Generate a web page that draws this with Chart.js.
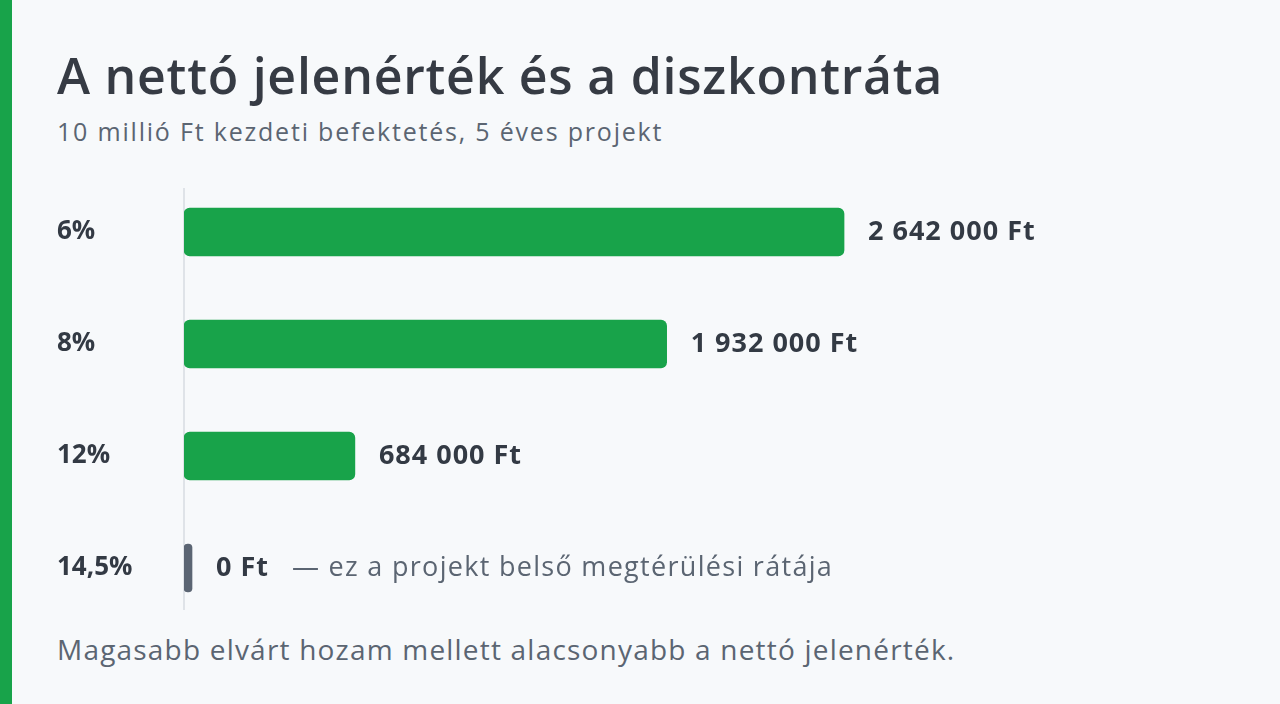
<!DOCTYPE html>
<html>
<head>
<meta charset="utf-8">
<script src="https://cdn.jsdelivr.net/npm/chart.js@4.4.1/dist/chart.umd.min.js"></script>
<style>
  html, body { margin: 0; padding: 0; }
  body { width: 1280px; height: 704px; background: #f7f9fb; position: relative; overflow: hidden; font-family: "Open Sans", sans-serif; }
  .stripe { position: absolute; left: 0; top: 0; width: 12px; height: 704px; background: #18a34a; }
  h1 { position: absolute; left: 57px; top: 50px; margin: 0; font-size: 50px; font-weight: 600; color: #363b44; line-height: 1; white-space: nowrap; letter-spacing: 0.75px; }
  .sub { position: absolute; left: 57px; top: 119px; margin: 0; font-size: 25px; line-height: 1; font-weight: 400; color: #5b6572; white-space: nowrap; letter-spacing: 1.8px; }
  .foot { position: absolute; left: 57px; top: 635px; margin: 0; font-size: 28px; line-height: 1; font-weight: 400; color: #5b6572; white-space: nowrap; letter-spacing: 1.2px; }
  #wrap { position: absolute; left: 57px; top: 176px; width: 1180px; height: 448px; }
</style>
</head>
<body>
<div class="stripe"></div>
<h1 id="title">A nettó jelenérték és a diszkontráta</h1>
<div class="sub" id="sub">10 millió Ft kezdeti befektetés, 5 éves projekt</div>
<div id="wrap"><canvas id="c"></canvas></div>
<div class="foot" id="foot">Magasabb elvárt hozam mellett alacsonyabb a nettó jelenérték.</div>
<script>
const rates = ["6%", "8%", "12%", "14,5%"];
const npvValues = [2642000, 1932000, 684000, 0];
const valueLabels = ["2 642 000 Ft", "1 932 000 Ft", "684 000 Ft", "0 Ft"];
const notes = ["", "", "", "— ez a projekt belső megtérülési rátája"];
const barColors = ["#18a34a", "#18a34a", "#18a34a", "#5b6573"];

const FONT = '"Open Sans", sans-serif';

const labelPlugin = {
  id: 'valueLabels',
  afterDatasetsDraw(chart) {
    const ctx = chart.ctx;
    const meta = chart.getDatasetMeta(0);
    ctx.save();
    ctx.textBaseline = 'middle';
    ctx.textAlign = 'left';
    meta.data.forEach((bar, i) => {
      const x = bar.x + 24;
      const y = bar.y;
      ctx.font = '700 27px ' + FONT;
      ctx.letterSpacing = '1px';
      ctx.fillStyle = '#333a44';
      ctx.fillText(valueLabels[i], x, y);
      if (notes[i]) {
        const w = ctx.measureText(valueLabels[i]).width;
        ctx.font = '400 27px ' + FONT;
        ctx.letterSpacing = '1.3px';
        ctx.fillStyle = '#5b6572';
        ctx.fillText(notes[i], x + w + 23, y);
      }
    });
    ctx.restore();
  },
  beforeDatasetsDraw(chart) {
    const ctx = chart.ctx;
    const a = chart.chartArea;
    ctx.save();
    ctx.strokeStyle = '#dfe3e8';
    ctx.lineWidth = 2;
    ctx.beginPath();
    ctx.moveTo(a.left, a.top + 12);
    ctx.lineTo(a.left, a.bottom - 14);
    ctx.stroke();
    ctx.restore();
  }
};

new Chart(document.getElementById('c'), {
  type: 'bar',
  data: {
    labels: rates,
    datasets: [{
      data: npvValues,
      backgroundColor: barColors,
      borderRadius: npvValues.map(v => v === 0 ? 4 : 6),
      borderSkipped: false,
      barThickness: 48,
      minBarLength: 8
    }]
  },
  options: {
    indexAxis: 'y',
    responsive: true,
    maintainAspectRatio: false,
    animation: false,
    layout: { padding: 0 },
    plugins: { legend: { display: false }, tooltip: { enabled: false }, title: { display: false } },
    scales: {
      x: { display: false, min: 0, max: 4215000 },
      y: {
        grid: { display: false },
        border: { display: false },
        afterFit(scale) { scale.width = 127; scale.paddingTop = 0; scale.paddingBottom = 0; },
        ticks: {
          crossAlign: 'far',
          padding: 0,
          color: '#333a44',
          font: { family: FONT, size: 26, weight: '700' }
        }
      }
    }
  },
  plugins: [labelPlugin]
});
</script>
</body>
</html>
